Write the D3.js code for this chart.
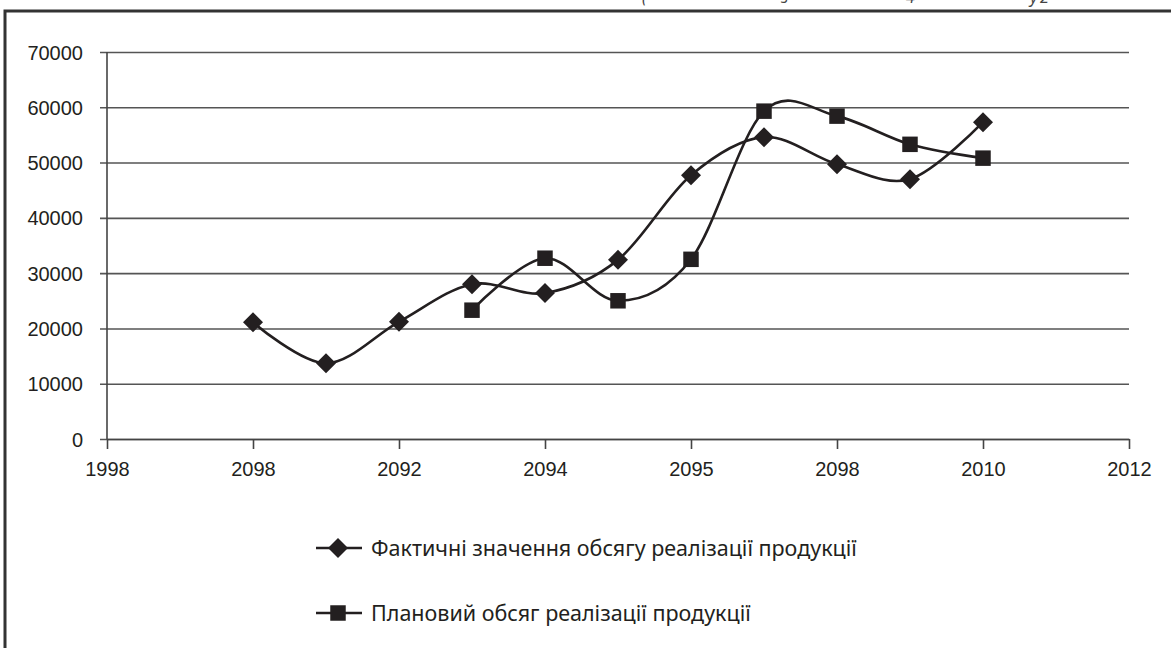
<!DOCTYPE html>
<html>
<head>
<meta charset="utf-8">
<script src="https://cdn.jsdelivr.net/npm/d3@7"></script>
<style>
  body { margin: 0; background: #fff; }
  svg { display: block; font-family: "Noto Sans", sans-serif; }
</style>
</head>
<body>
<svg id="chart" width="1171" height="648"></svg>
<script>
// data
var years = [2000, 2001, 2002, 2003, 2004, 2005, 2006, 2007, 2008, 2009, 2010];
var actual = [21100, 13700, 21200, 28000, 26400, 32400, 47700, 54600, 49700, 47000, 57300];
var planYears = [2003, 2004, 2005, 2006, 2007, 2008, 2009, 2010];
var planned = [23300, 32700, 25000, 32500, 59300, 58400, 53300, 50800];
var xTicks = [1998, 2000, 2002, 2004, 2006, 2008, 2010, 2012];
var xTickLabels = ["1998", "2098", "2092", "2094", "2095", "2098", "2010", "2012"];
var yTicks = [0, 10000, 20000, 30000, 40000, 50000, 60000, 70000];
var seriesNames = ["Фактичні значення обсягу реалізації продукції", "Плановий обсяг реалізації продукції"];

var ink = "#231f20";

var svg = d3.select("#chart");

// outer frame (cut by the picture edges)
svg.append("path")
    .attr("d", "M5,660 V11 H1180")
    .attr("fill", "none")
    .attr("stroke", "#333")
    .attr("stroke-width", 3);

// cut-off formula fragments above the frame
var frag = svg.append("g").attr("fill", "#444").style("font-size", "16px").style("font-style", "italic");
[["(", 642], ["з", 781], ["4", 906], ["у", 1030], ["2", 1040]].forEach(function (f) {
  frag.append("text").attr("x", f[1]).attr("y", 3).text(f[0]);
});

var x = d3.scaleLinear().domain([1998, 2012]).range([107, 1129]);
var y = d3.scaleLinear().domain([0, 70000]).range([439, 52]);

// horizontal grid + y axis
var yAxis = d3.axisLeft(y)
    .tickValues(yTicks)
    .tickSize(7)
    .tickFormat(d3.format("d"));

var gy = svg.append("g")
    .attr("transform", "translate(107,0)")
    .call(yAxis);
gy.select(".domain").remove();
gy.selectAll(".tick line").attr("x1", -7).attr("x2", 1022).attr("stroke", "#555").attr("stroke-width", 1.6);
gy.selectAll(".tick text").attr("x", -24).attr("fill", ink).style("font-size", "20px").attr("dy", "0.35em");

svg.append("line")
    .attr("x1", 107).attr("x2", 107).attr("y1", 52).attr("y2", 439)
    .attr("stroke", "#444").attr("stroke-width", 1.6);

var xAxis = d3.axisBottom(x)
    .tickValues(xTicks)
    .tickSize(10)
    .tickSizeOuter(0)
    .tickFormat(function (d, i) { return xTickLabels[i]; });

var gx = svg.append("g")
    .attr("transform", "translate(0,439)")
    .call(xAxis);
gx.select(".domain").attr("stroke", "#444").attr("stroke-width", 1.6);
gx.selectAll(".tick line").attr("stroke", "#444").attr("stroke-width", 1.6);
gx.selectAll(".tick text").attr("y", 23).attr("fill", ink).style("font-size", "20px");

var line = d3.line()
    .curve(d3.curveCardinal.tension(0))
    .x(function (d) { return x(d[0]); })
    .y(function (d) { return y(d[1]); });

var actualPts = d3.zip(years, actual);
var planPts = d3.zip(planYears, planned);

svg.append("path").datum(actualPts)
    .attr("d", line).attr("fill", "none").attr("stroke", ink).attr("stroke-width", 2.6);
svg.append("path").datum(planPts)
    .attr("d", line).attr("fill", "none").attr("stroke", ink).attr("stroke-width", 2.6);

var diamond = d3.symbol().type(d3.symbolSquare).size(200);
var square = d3.symbol().type(d3.symbolSquare).size(240);

svg.selectAll(".dia").data(actualPts).enter().append("path")
    .attr("class", "dia")
    .attr("d", diamond)
    .attr("transform", function (d) { return "translate(" + x(d[0]) + "," + y(d[1]) + ") rotate(45)"; })
    .attr("fill", ink);

svg.selectAll(".sq").data(planPts).enter().append("path")
    .attr("class", "sq")
    .attr("d", square)
    .attr("transform", function (d) { return "translate(" + x(d[0]) + "," + y(d[1]) + ")"; })
    .attr("fill", ink);

// legend
var legend = svg.append("g");
var legY = [548, 613];
seriesNames.forEach(function (name, i) {
  var g = legend.append("g").attr("transform", "translate(0," + legY[i] + ")");
  g.append("line").attr("x1", 316).attr("x2", 362).attr("stroke", ink).attr("stroke-width", 2.6);
  g.append("path")
      .attr("d", i === 0 ? diamond : square)
      .attr("transform", "translate(338,0)" + (i === 0 ? " rotate(45)" : ""))
      .attr("fill", ink);
  g.append("text")
      .attr("x", 371).attr("dy", "0.35em")
      .attr("fill", ink)
      .style("font-size", "21.5px")
      .text(name);
});
</script>
</body>
</html>
